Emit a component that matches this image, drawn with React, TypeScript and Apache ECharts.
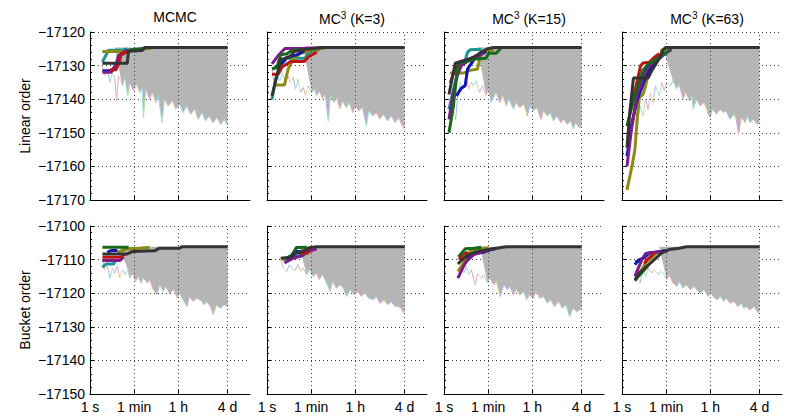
import { useEffect, useRef } from 'react';
import * as echarts from 'echarts';

// ---------- text ----------
const COL_TITLES = [
  ['MCMC', '', ''],
  ['MC', '3', ' (K=3)'],
  ['MC', '3', ' (K=15)'],
  ['MC', '3', ' (K=63)'],
];
const ROW_NAMES = ['Linear order', 'Bucket order'];

// ---------- axes ----------
const ROW_Y_MIN = [-17170, -17150];
const ROW_Y_MAX = [-17120, -17100];
const Y_STEP = 10;
const X_TICK_SECONDS = [1, 60, 3600, 345600];
const X_TICK_LABELS = ['1 s', '1 min', '1 h', '4 d'];
const X_MAX_LOG = 6.44; // log10(seconds) at the right edge of every panel

// final best score of each row
const FINAL = [-17124.6, -17106.2];
// log10(seconds) where the dense grey cloud of traces begins, per row / column
const GRAY_START = [
  [1.0, 1.45, 1.35, 1.65],
  [1.2, 1.3, 1.45, 1.5],
];
// how far (in log10 seconds) the cloud takes to reach the lower edge
const GRAY_RAMP = 0.3;

// run colours: teal, olive, blue, purple, red, green, dark
const RUN_COLORS = ['#1a9494', '#8c8c12', '#1414b0', '#7d1a8c', '#c01414', '#14691a', '#333333'];
const PASTELS = ['#f2a7bd', '#e4e199', '#a9b4ee', '#9fdfdd', '#badfae', '#cfa9e6'];
const GRAY = '#b5b5b5';

// ---------- best-so-far runs (x = log10 seconds, y = score) ----------
// order per panel: teal, olive, blue, purple, red, green, dark
const RUNS_T1 = [
  [[0.5, -17128.9], [0.75, -17125.4], [1.3, -17125.4], [1.5, -17125.0]],
  [[0.5, -17125.8], [1.6, -17125.8], [1.7, -17125.3], [2.3, -17125.0], [2.6, -17124.6]],
  [[0.5, -17131.5], [0.9, -17131.5], [1.1, -17129.3], [1.25, -17126.5], [1.5, -17125.5], [1.9, -17125.3]],
  [[0.5, -17132], [0.85, -17132], [1.05, -17129.5], [1.15, -17127], [1.35, -17126.5], [1.5, -17125.6]],
  [[0.8, -17131.2], [1.05, -17131.2], [1.2, -17128.5], [1.25, -17126.5], [1.6, -17125.6], [2.0, -17125.2]],
  [[1.5, -17125.5], [2.2, -17124.8]],
  [[0.5, -17129.3], [1.5, -17129.3], [1.55, -17125.7], [2.1, -17125.5], [2.2, -17124.6], [5.54, -17124.6]],
];
const RUNS_T2 = [
  [[0.2, -17140.1], [0.35, -17134], [0.52, -17130.3], [0.79, -17127.8], [1.53, -17127.8], [1.73, -17125.8], [2.1, -17125.2]],
  [[0.3, -17135.8], [0.7, -17135.8], [0.85, -17131], [1.05, -17128.3], [1.3, -17126.5], [1.7, -17125.6], [2.3, -17124.8]],
  [[0.3, -17130.8], [0.6, -17129.2], [0.8, -17127.5], [1.2, -17126.8], [1.5, -17125.6]],
  [[0.2, -17129.5], [0.45, -17127], [0.72, -17124.9], [1.5, -17124.8], [2.4, -17124.6]],
  [[0.2, -17132.6], [0.45, -17132.6], [0.6, -17130.5], [0.95, -17128.8], [1.5, -17128.8], [1.65, -17127.5], [2.0, -17126]],
  [[0.2, -17131], [0.4, -17130.5], [0.55, -17126.8], [0.8, -17126.5], [1.0, -17125.5], [1.4, -17125.2]],
  [[0.2, -17139], [0.4, -17133], [0.55, -17128.2], [0.9, -17127.5], [1.1, -17125.8], [1.6, -17125.1], [2.2, -17124.6], [5.54, -17124.6]],
];
const RUNS_T3 = [
  [[0.2, -17143], [0.45, -17135], [0.65, -17130], [0.85, -17128.5], [0.95, -17126], [1.05, -17125.3], [1.5, -17125.1]],
  [[0.25, -17132.2], [0.8, -17132.2], [1.0, -17131.5], [1.35, -17131], [1.45, -17127.5], [1.55, -17125.8], [2.0, -17125.2]],
  [[0.5, -17139], [0.7, -17136.7], [0.85, -17136], [0.95, -17131], [1.2, -17128.3], [1.4, -17127], [1.7, -17125.8]],
  [[0.2, -17146], [0.35, -17139], [0.53, -17133], [0.7, -17130], [1.0, -17128.5], [1.3, -17127.8], [1.6, -17126]],
  [[0.25, -17135.2], [0.45, -17131], [0.65, -17128.8], [0.9, -17128.5], [1.1, -17127.8], [1.3, -17127]],
  [[0.2, -17150], [0.38, -17142], [0.52, -17132], [0.6, -17129.3], [0.9, -17128.8], [1.3, -17128], [1.7, -17127.8], [1.8, -17126.3], [2.1, -17126.3], [2.3, -17124.7]],
  [[0.2, -17138.6], [0.45, -17129.3], [0.8, -17128.5], [1.2, -17127.5], [1.5, -17126], [1.75, -17125], [2.0, -17124.6], [5.54, -17124.6]],
];
const RUNS_T4 = [
  [[0.5, -17138], [0.75, -17132], [1.0, -17130], [1.3, -17128], [1.55, -17127.5], [1.7, -17126]],
  [[0.2, -17167], [0.4, -17160], [0.52, -17155], [0.62, -17145], [0.7, -17139.5], [0.85, -17138.5], [0.95, -17136], [1.1, -17131], [1.25, -17129.3], [1.55, -17127.5], [1.6, -17125.3], [2.0, -17124.8]],
  [[0.2, -17157], [0.4, -17147], [0.62, -17140], [0.9, -17134.5], [1.1, -17131.5], [1.4, -17128.5], [1.8, -17126]],
  [[0.2, -17160], [0.38, -17149], [0.6, -17139], [0.85, -17134], [1.05, -17130.5], [1.3, -17128.5], [1.7, -17126.5], [2.0, -17125.2]],
  [[0.4, -17142], [0.6, -17135], [0.75, -17130], [0.85, -17129.2], [1.1, -17129], [1.3, -17127.5], [1.5, -17126.5]],
  [[0.2, -17148], [0.3, -17145], [0.55, -17138], [0.85, -17132], [1.05, -17129.5], [1.3, -17128.5], [1.5, -17127.5], [1.9, -17125.5]],
  [[0.2, -17154.4], [0.3, -17145], [0.46, -17133.7], [1.05, -17133.7], [1.2, -17131.5], [1.45, -17128.5], [1.65, -17125.5], [1.75, -17124.6], [5.54, -17124.6]],
];
const RUNS_B1 = [
  [[0.5, -17112.3], [0.65, -17111.3], [0.95, -17111.3], [1.05, -17110]],
  [[1.1, -17107.8], [1.5, -17106.8], [2.0, -17106.6], [2.4, -17106.3]],
  [[0.7, -17107.8], [0.85, -17107.3], [1.1, -17107.3]],
  [[0.5, -17110.3], [1.2, -17110.3], [1.35, -17109.2]],
  [[0.5, -17109.3], [1.25, -17109.3], [1.4, -17108.3]],
  [[0.5, -17106.3], [1.55, -17106.3]],
  [[0.5, -17108.3], [1.5, -17108.3], [1.7, -17107.6], [2.6, -17107.4], [2.8, -17106.6], [3.6, -17106.6], [3.7, -17106.2], [5.54, -17106.2]],
];
const RUNS_B2 = [
  [[0.7, -17110.5], [0.9, -17109], [1.1, -17108.8], [1.4, -17109], [1.6, -17107.8]],
  [[0.6, -17110], [0.9, -17109.5], [1.1, -17108], [1.5, -17107.2], [1.8, -17106.5]],
  [[0.8, -17110.2], [1.0, -17109.3], [1.2, -17107.5], [1.4, -17107.8], [1.6, -17107.0]],
  [[0.7, -17111], [1.0, -17109.8], [1.4, -17108.8], [1.7, -17107.5], [2.0, -17106.8]],
  [[1.3, -17108.2], [1.65, -17108], [1.72, -17106.3]],
  [[0.8, -17109.5], [1.0, -17108.8], [1.18, -17106.4], [1.6, -17106.3]],
  [[0.55, -17109.6], [0.95, -17109.3], [1.05, -17108.2], [1.4, -17107.8], [1.7, -17106.5], [2.0, -17106.2], [5.54, -17106.2]],
];
const RUNS_B3 = [
  [[0.7, -17110], [1.0, -17108.3], [1.3, -17107.5]],
  [[0.56, -17113.5], [0.75, -17111.5], [0.95, -17108.5], [1.1, -17107], [1.8, -17106.5]],
  [[0.9, -17109.5], [1.2, -17108.3], [1.6, -17107.8], [1.9, -17107], [2.1, -17106.7]],
  [[0.56, -17115.5], [0.75, -17112.5], [0.9, -17110.5], [1.2, -17108.5], [1.7, -17107.3], [2.0, -17106.8]],
  [[0.6, -17110], [0.75, -17108.5], [0.95, -17107.8]],
  [[0.58, -17109.2], [0.85, -17106.8], [1.2, -17106.6], [1.5, -17106.3]],
  [[0.56, -17111.3], [0.8, -17109.5], [1.0, -17108.5], [1.4, -17107.5], [1.8, -17107], [2.3, -17106.4], [2.5, -17106.2], [5.54, -17106.2]],
];
const RUNS_B4 = [
  [[0.52, -17110.6], [0.7, -17110.6], [0.9, -17109], [1.3, -17108]],
  [[0.55, -17114.3], [0.75, -17113.5], [0.95, -17111], [1.1, -17110], [1.4, -17108], [1.7, -17107.3]],
  [[0.52, -17111.5], [0.65, -17110.2], [0.9, -17109.5], [1.05, -17108], [1.6, -17107.6], [1.85, -17107.2]],
  [[0.52, -17115], [0.6, -17113.5], [0.8, -17110], [0.95, -17108.2], [1.35, -17107.8], [1.6, -17107.5]],
  [[0.9, -17111.2], [1.0, -17110], [1.15, -17109.2], [1.3, -17108]],
  [[0.52, -17116.3], [0.6, -17115.5], [0.9, -17113], [1.06, -17111.6]],
  [[0.52, -17116], [0.7, -17114], [1.0, -17112], [1.3, -17110], [1.6, -17108], [1.9, -17107], [2.3, -17106.6], [2.6, -17106.2], [5.54, -17106.2]],
];

// ---------- lower edge of the cloud of sampled traces ----------
const EDGE_T1 = [[0.5, -17130], [0.6, -17133], [0.7, -17131], [0.8, -17135], [0.9, -17132], [1.0, -17134], [1.07, -17140.5], [1.15, -17133], [1.3, -17136], [1.4, -17133.5], [1.52, -17139], [1.6, -17135], [1.75, -17137.5], [1.85, -17135.5], [2.0, -17138], [2.1, -17136.5], [2.15, -17145.5], [2.25, -17137], [2.4, -17140], [2.5, -17138], [2.65, -17141], [2.75, -17139], [2.9, -17147], [3.0, -17140], [3.15, -17142], [3.3, -17140.5], [3.45, -17143], [3.6, -17141.5], [3.75, -17144], [3.9, -17142], [4.05, -17144.5], [4.2, -17143], [4.35, -17146], [4.5, -17144], [4.65, -17146.5], [4.8, -17145], [4.95, -17147], [5.1, -17145.5], [5.25, -17147.5], [5.4, -17146], [5.54, -17148]];
const EDGE_T2 = [[0.2, -17131], [0.3, -17136], [0.4, -17133], [0.52, -17134.5], [0.62, -17132], [0.75, -17135.5], [0.85, -17133], [0.93, -17135], [1.05, -17133.5], [1.15, -17137], [1.25, -17134], [1.35, -17138], [1.46, -17136.5], [1.55, -17139], [1.65, -17136], [1.8, -17138], [1.9, -17137], [2.0, -17139], [2.1, -17137.5], [2.25, -17140], [2.35, -17138.5], [2.47, -17146.5], [2.55, -17139], [2.7, -17141], [2.8, -17139.5], [2.94, -17143], [3.05, -17140.5], [3.2, -17142.5], [3.3, -17141], [3.45, -17144], [3.55, -17142], [3.7, -17143.5], [3.85, -17142.5], [4.0, -17148], [4.1, -17143.5], [4.25, -17145], [4.4, -17144], [4.55, -17146], [4.7, -17144.5], [4.85, -17146.5], [5.0, -17145], [5.15, -17147], [5.3, -17145.5], [5.45, -17148], [5.54, -17149]];
const EDGE_T3 = [[0.3, -17140], [0.4, -17144], [0.47, -17146], [0.55, -17139], [0.65, -17135], [0.8, -17136.5], [0.9, -17134], [1.0, -17137], [1.1, -17135], [1.18, -17136], [1.3, -17134.5], [1.42, -17138], [1.55, -17136], [1.7, -17139], [1.8, -17137], [1.9, -17141], [2.0, -17139.5], [2.1, -17138], [2.25, -17141], [2.35, -17139], [2.5, -17142], [2.6, -17140], [2.8, -17143], [2.9, -17141], [3.05, -17142.5], [3.2, -17141.5], [3.35, -17145], [3.45, -17142], [3.6, -17143.5], [3.75, -17142.5], [3.9, -17146], [4.0, -17143.5], [4.15, -17145], [4.27, -17144], [4.4, -17146.5], [4.55, -17145], [4.7, -17147], [4.81, -17146], [4.95, -17147.5], [5.1, -17146.5], [5.2, -17149], [5.3, -17147], [5.45, -17148.5], [5.54, -17148]];
const EDGE_T4 = [[0.35, -17150], [0.5, -17146], [0.62, -17148], [0.72, -17142], [0.85, -17145], [0.95, -17140], [1.05, -17143], [1.15, -17138], [1.25, -17141], [1.35, -17136], [1.5, -17139], [1.6, -17135], [1.7, -17137.5], [1.8, -17135], [1.94, -17136], [2.05, -17134.5], [2.2, -17137], [2.3, -17135.5], [2.46, -17140], [2.55, -17138], [2.7, -17140.5], [2.8, -17139], [2.87, -17143], [3.0, -17140], [3.15, -17142], [3.3, -17141], [3.45, -17144], [3.55, -17145.5], [3.65, -17143], [3.8, -17144.5], [3.95, -17143], [4.08, -17144], [4.2, -17143.5], [4.35, -17146], [4.5, -17144.5], [4.6, -17146], [4.69, -17150.5], [4.8, -17145.5], [4.95, -17147], [5.03, -17145], [5.15, -17147], [5.3, -17146], [5.45, -17147.5], [5.54, -17146.5]];
const EDGE_B1 = [[0.5, -17110], [0.6, -17113], [0.7, -17112], [0.81, -17115.6], [0.9, -17112.5], [1.0, -17114], [1.1, -17112], [1.2, -17115.5], [1.3, -17113], [1.42, -17114.5], [1.52, -17113], [1.6, -17115.5], [1.7, -17114], [1.85, -17116.5], [1.95, -17115], [2.05, -17117], [2.15, -17115.5], [2.3, -17117], [2.4, -17116], [2.55, -17119], [2.69, -17120.5], [2.8, -17117.5], [2.95, -17119.5], [3.05, -17118], [3.2, -17120], [3.36, -17119], [3.5, -17121.5], [3.6, -17120], [3.75, -17122], [3.9, -17124], [4.0, -17121], [4.15, -17122.5], [4.3, -17121.5], [4.44, -17122], [4.6, -17123.5], [4.7, -17122.5], [4.85, -17124], [4.97, -17126.5], [5.1, -17123.5], [5.25, -17124.5], [5.4, -17123.5], [5.54, -17124]];
const EDGE_B2 = [[0.55, -17110], [0.65, -17112.5], [0.79, -17113.6], [0.9, -17111.5], [1.0, -17112.5], [1.13, -17113.2], [1.25, -17111.5], [1.35, -17113.5], [1.45, -17112.5], [1.6, -17114.5], [1.7, -17113], [1.85, -17115], [2.0, -17114], [2.1, -17116], [2.25, -17114.5], [2.4, -17117], [2.54, -17119.5], [2.65, -17116.5], [2.8, -17118.5], [2.95, -17117.5], [3.1, -17119], [3.21, -17121], [3.35, -17119], [3.5, -17120.5], [3.65, -17119.5], [3.8, -17121], [3.95, -17120], [4.1, -17121.5], [4.29, -17122], [4.4, -17121], [4.55, -17123], [4.7, -17122], [4.85, -17123.5], [5.0, -17122.5], [5.15, -17124], [5.29, -17124], [5.4, -17124.5], [5.5, -17126], [5.54, -17125]];
const EDGE_B3 = [[0.56, -17113], [0.7, -17111.5], [0.8, -17114], [0.9, -17112], [1.0, -17114.5], [1.1, -17113], [1.26, -17117.5], [1.35, -17114], [1.5, -17115.5], [1.6, -17114.5], [1.75, -17117], [1.85, -17115.5], [2.0, -17117.5], [2.1, -17116.5], [2.26, -17121], [2.4, -17117.5], [2.55, -17119], [2.65, -17118], [2.79, -17120.5], [2.9, -17119], [3.05, -17120.5], [3.2, -17119.5], [3.33, -17122], [3.45, -17120.5], [3.6, -17121.5], [3.7, -17119.5], [3.85, -17121.5], [4.0, -17121], [4.15, -17123], [4.3, -17122], [4.45, -17124], [4.6, -17122.5], [4.75, -17124.5], [4.9, -17123.5], [5.06, -17127], [5.2, -17124.5], [5.35, -17125.5], [5.46, -17125], [5.54, -17124.5]];
const EDGE_B4 = [[0.52, -17116], [0.6, -17114.5], [0.73, -17117], [0.85, -17113], [0.95, -17115], [1.05, -17112.5], [1.2, -17114], [1.3, -17113], [1.45, -17114.5], [1.55, -17113.5], [1.67, -17114.1], [1.8, -17116], [1.9, -17114.5], [2.05, -17117], [2.2, -17118], [2.3, -17116.5], [2.45, -17118.5], [2.6, -17117.5], [2.75, -17119], [2.9, -17118], [3.0, -17119], [3.15, -17120], [3.3, -17119], [3.45, -17121], [3.6, -17120], [3.72, -17121.5], [3.82, -17122], [3.95, -17121], [4.1, -17122.5], [4.2, -17121.5], [4.35, -17123], [4.5, -17122.5], [4.65, -17124], [4.8, -17123], [4.9, -17124.5], [5.03, -17124], [5.15, -17125], [5.3, -17124], [5.4, -17125], [5.5, -17126], [5.54, -17124.5]];

const RUNS = [RUNS_T1, RUNS_T2, RUNS_T3, RUNS_T4, RUNS_B1, RUNS_B2, RUNS_B3, RUNS_B4];
const EDGES = [EDGE_T1, EDGE_T2, EDGE_T3, EDGE_T4, EDGE_B1, EDGE_B2, EDGE_B3, EDGE_B4];

// ---------- layout ----------
const PANEL_LEFT = [90, 267, 444, 622];
const PANEL_TOP = [32, 226];
const PANEL_W = 160;
const PANEL_H = 168;
const FONT = '"Liberation Sans", Arial, sans-serif';

function buildOption() {
  const xTickPos = X_TICK_SECONDS.map((s) => Math.log10(s));
  const grid: any[] = [];
  const xAxis: any[] = [];
  const yAxis: any[] = [];
  const series: any[] = [];
  const title: any[] = [];
  const dotted = { color: '#3a3a3a', width: 1, type: [1, 3] };

  COL_TITLES.forEach(([a, s, b], c) => {
    title.push({
      text: s ? `${a}{s|${s}}${b}` : a,
      left: PANEL_LEFT[c] + PANEL_W / 2,
      top: 5,
      textAlign: 'center',
      textStyle: {
        fontSize: 14,
        fontWeight: 'normal',
        color: '#000',
        fontFamily: FONT,
        rich: { s: { fontSize: 10, color: '#000', fontFamily: FONT, padding: [0, 0, 7, 0] } },
      },
    });
  });

  for (let r = 0; r < 2; r++) {
    for (let c = 0; c < 4; c++) {
      const i = r * 4 + c;
      grid.push({ left: PANEL_LEFT[c], top: PANEL_TOP[r], width: PANEL_W, height: PANEL_H });
      // main x axis (log10 seconds) with the time ticks
      xAxis.push({
        type: 'value',
        gridIndex: i,
        min: 0,
        max: X_MAX_LOG,
        axisLine: { show: true, onZero: false, lineStyle: { color: '#000', width: 1 } },
        axisTick: { show: true, inside: true, length: 4, customValues: xTickPos, lineStyle: { color: '#000' } },
        axisLabel: {
          show: r === 1,
          customValues: xTickPos,
          formatter: (v: number) => {
            const k = xTickPos.findIndex((p) => Math.abs(p - v) < 1e-6);
            return k >= 0 ? X_TICK_LABELS[k] : '';
          },
          margin: 6,
          fontSize: 14,
          color: '#000',
          fontFamily: FONT,
          hideOverlap: false,
        },
        splitLine: { show: false },
      });
      yAxis.push({
        type: 'value',
        gridIndex: i,
        min: ROW_Y_MIN[r],
        max: ROW_Y_MAX[r],
        interval: Y_STEP,
        axisLine: { show: true, onZero: false, lineStyle: { color: '#000', width: 1 } },
        axisTick: { show: true, inside: true, length: 4, lineStyle: { color: '#000' } },
        minorTick: { show: true, splitNumber: 5, length: 2, lineStyle: { color: '#000' } },
        axisLabel: {
          show: c === 0,
          formatter: (v: number) => String(v).replace('-', '\u2212'),
          fontSize: 14,
          color: '#000',
          fontFamily: FONT,
          margin: 5,
        },
        splitLine: { show: true, lineStyle: dotted },
        name: c === 0 ? ROW_NAMES[r] : '',
        nameLocation: 'middle',
        nameGap: 58,
        nameRotate: 90,
        nameTextStyle: { fontSize: 14, color: '#000', fontFamily: FONT },
      });

      // vertical dotted grid lines at the time ticks
      series.push({
        type: 'line',
        xAxisIndex: i,
        yAxisIndex: i,
        data: [],
        silent: true,
        z: 0,
        markLine: {
          silent: true,
          symbol: ['none', 'none'],
          label: { show: false },
          lineStyle: dotted,
          emphasis: { disabled: true },
          data: xTickPos.slice(1).map((p) => ({ xAxis: p })),
        },
      });

      const edge = EDGES[i];
      const gs = GRAY_START[r][c];
      const top = FINAL[r];
      const inside = edge.filter(([x]) => x >= gs + GRAY_RAMP);
      // grey cloud of sampled traces: between the final score and the lower edge
      series.push({
        type: 'custom',
        xAxisIndex: i,
        yAxisIndex: i,
        silent: true,
        z: 1,
        data: [[gs, top]],
        renderItem: (_p: any, api: any) => {
          const pts: number[][] = [];
          pts.push(api.coord([gs, top]));
          pts.push(api.coord([inside[inside.length - 1][0], top]));
          for (let k = inside.length - 1; k >= 0; k--) pts.push(api.coord(inside[k]));
          return { type: 'polygon', shape: { points: pts }, style: { fill: GRAY } };
        },
      });
      // pale traces along the lower edge
      const segs: any[] = [];
      for (let k = 0; k + 1 < edge.length; k++) {
        segs.push({
          coords: [edge[k], edge[k + 1]],
          lineStyle: { color: PASTELS[k % PASTELS.length] },
        });
      }
      series.push({
        type: 'lines',
        coordinateSystem: 'cartesian2d',
        xAxisIndex: i,
        yAxisIndex: i,
        data: segs,
        lineStyle: { width: 1, opacity: 1 },
        silent: true,
        z: 2,
      });
      // best-so-far runs
      RUNS[i].forEach((run, k) => {
        series.push({
          type: 'line',
          xAxisIndex: i,
          yAxisIndex: i,
          data: run,
          showSymbol: false,
          lineStyle: { color: RUN_COLORS[k], width: 3 },
          itemStyle: { color: RUN_COLORS[k] },
          silent: true,
          z: 3 + k,
        });
      });
    }
  }

  return {
    animation: false,
    backgroundColor: '#ffffff',
    textStyle: { fontFamily: FONT },
    title,
    grid,
    xAxis,
    yAxis,
    series,
  };
}

export default function App() {
  const ref = useRef<HTMLDivElement>(null);
  useEffect(() => {
    document.body.style.margin = '0';
    if (!ref.current) return;
    const chart = echarts.init(ref.current, undefined, { renderer: 'svg' });
    chart.setOption(buildOption() as any);
    return () => chart.dispose();
  }, []);
  return <div ref={ref} style={{ width: 788, height: 416 }} />;
}
